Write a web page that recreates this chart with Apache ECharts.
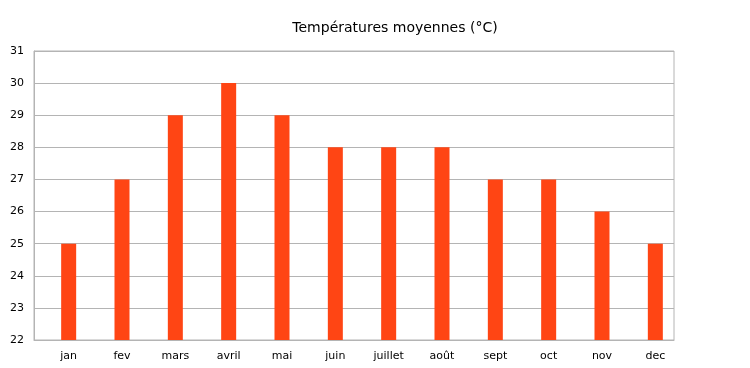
<!DOCTYPE html>
<html><head><meta charset="utf-8">
<script src="https://cdn.jsdelivr.net/npm/echarts@6/dist/echarts.min.js"></script>
<style>html,body{margin:0;padding:0;background:#fff}#c{width:750px;height:368px}</style>
</head><body><div id="c"></div>
<script>
const categories = ['jan','fev','mars','avril','mai','juin','juillet','août','sept','oct','nov','dec'];
const temperatures = [25,27,29,30,29,28,28,28,27,27,26,25];
const chartTitle = 'Températures moyennes (°C)';

const chart = echarts.init(document.getElementById('c'), null, {renderer:'canvas'});
chart.setOption({
  animation:false,
  backgroundColor:'#fff',
  title:{text:chartTitle,left:390,top:16,textAlign:'center',
    textStyle:{fontFamily:'DejaVu Sans',fontSize:14,fontWeight:'normal',color:'#000'}},
  grid:[
    {left:34,right:76,top:51,bottom:28,show:true,borderColor:'#b4b4b4',borderWidth:1},
    {left:42,right:68,top:51,bottom:28}
  ],
  xAxis:[
    {type:'category',gridIndex:0,data:categories,
     axisLine:{show:true,lineStyle:{color:'#b4b4b4'}},axisTick:{show:false},axisLabel:{show:false}},
    {type:'category',gridIndex:1,data:categories,
     axisLine:{show:false},axisTick:{show:false},
     axisLabel:{color:'#000',fontFamily:'DejaVu Sans',fontSize:11,margin:11}}
  ],
  yAxis:[
    {type:'value',gridIndex:0,min:22,max:31,interval:1,
     axisLine:{show:true,lineStyle:{color:'#b4b4b4'}},axisTick:{show:false},
     splitLine:{lineStyle:{color:'#b4b4b4'}},
     axisLabel:{color:'#000',fontFamily:'DejaVu Sans',fontSize:11,margin:10}},
    {type:'value',gridIndex:1,min:22,max:31,interval:1,show:false,splitLine:{show:false}}
  ],
  series:[{type:'bar',xAxisIndex:1,yAxisIndex:1,data:temperatures,barWidth:15,itemStyle:{color:'#FF4514'}}]
});
</script></body></html>
